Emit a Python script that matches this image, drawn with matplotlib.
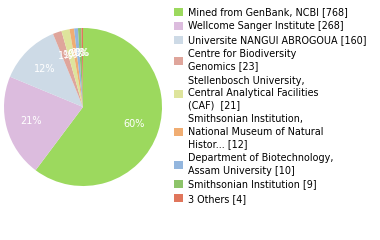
import matplotlib
matplotlib.use("Agg")
import matplotlib.pyplot as plt

labels = [
    "Mined from GenBank, NCBI [768]",
    "Wellcome Sanger Institute [268]",
    "Universite NANGUI ABROGOUA [160]",
    "Centre for Biodiversity\nGenomics [23]",
    "Stellenbosch University,\nCentral Analytical Facilities\n(CAF)  [21]",
    "Smithsonian Institution,\nNational Museum of Natural\nHistor... [12]",
    "Department of Biotechnology,\nAssam University [10]",
    "Smithsonian Institution [9]",
    "3 Others [4]",
]
values = [768, 268, 160, 23, 21, 12, 10, 9, 4]
colors = ["#9cd95e", "#dcbcde", "#cddae6", "#dfa59b", "#dee49c",
          "#f0ad72", "#93b6de", "#8dc46a", "#e0765c"]

W, H = 380, 240
fig = plt.figure(figsize=(W / 100, H / 100), dpi=100)
cx, cy, r = 83, 107, 79
ax = fig.add_axes([(cx - r) / W, (H - cy - r) / H, 2 * r / W, 2 * r / H])
wedges, texts, autotexts = ax.pie(
    values, colors=colors, startangle=90, counterclock=False,
    autopct=lambda p: f"{int(p)}%", pctdistance=0.68,
    textprops=dict(color="white", fontsize=7),
    wedgeprops=dict(linewidth=0),
)
ax.set_aspect("equal")
ax.set_xlim(-1, 1)
ax.set_ylim(-1, 1)

leg = fig.legend(wedges, labels, loc="upper left",
                 bbox_to_anchor=(174 / W, 1 - 7 / H),
                 frameon=False, fontsize=6.9, handlelength=0.9, handleheight=0.9,
                 handletextpad=0.6, labelspacing=0.42, borderaxespad=0,
                 borderpad=0)
for t in leg.get_texts():
    t.set_linespacing(1.3)
fig.savefig("out.png", dpi=100)
